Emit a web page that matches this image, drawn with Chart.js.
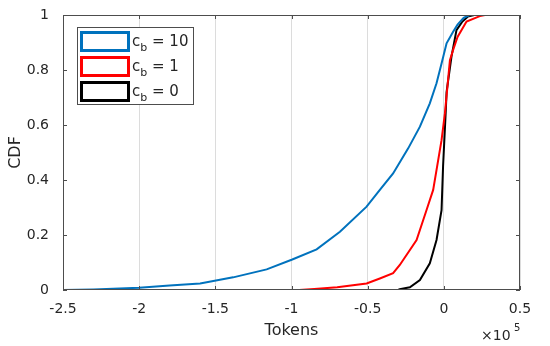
<!DOCTYPE html>
<html>
<head>
<meta charset="utf-8">
<script src="https://cdn.jsdelivr.net/npm/chart.js@4.4.1/dist/chart.umd.min.js"></script>
<style>
  html, body { margin: 0; padding: 0; background: #fff; }
  #wrap { width: 550px; height: 346px; position: relative; }
</style>
</head>
<body>
<div id="wrap"><canvas id="c" width="550" height="346"></canvas></div>
<script>
// tokens are in units of 1e5 (axis shows x10^5)
var xTicks = [-2.5, -2, -1.5, -1, -0.5, 0, 0.5];
var yTicks = [0, 0.2, 0.4, 0.6, 0.8, 1];

var cbValues = ['10', '1', '0'];
var lineColors = ['#0072BD', '#FF0000', '#000000'];

// c_b = 10
var blueX = [-2.5, -2.3, -2.0, -1.8, -1.6, -1.383, -1.163, -0.995, -0.835, -0.682, -0.507, -0.42, -0.333, -0.234, -0.157, -0.092, -0.048, -0.015, 0.018, 0.061, 0.09, 0.13, 0.17, 0.5];
var blueY = [0, 0.002, 0.008, 0.016, 0.024, 0.046, 0.075, 0.111, 0.148, 0.212, 0.303, 0.364, 0.424, 0.515, 0.594, 0.679, 0.752, 0.824, 0.897, 0.939, 0.965, 0.99, 1, 1];

// c_b = 1
var redX = [-0.95, -0.85, -0.7, -0.507, -0.42, -0.333, -0.289, -0.179, -0.114, -0.07, -0.015, 0.007, 0.04, 0.061, 0.09, 0.149, 0.236, 0.27, 0.5];
var redY = [0, 0.004, 0.01, 0.024, 0.042, 0.061, 0.091, 0.182, 0.29, 0.364, 0.545, 0.642, 0.836, 0.873, 0.92, 0.976, 0.996, 1, 1];

// c_b = 0
var blackX = [-2.5, -0.3, -0.289, -0.223, -0.157, -0.092, -0.048, -0.015, -0.005, 0.013, 0.018, 0.028, 0.05, 0.083, 0.12, 0.157, 0.2, 0.5];
var blackY = [0, 0, 0.003, 0.01, 0.036, 0.097, 0.182, 0.29, 0.45, 0.655, 0.72, 0.76, 0.848, 0.945, 0.975, 0.994, 1, 1];

function pts(xs, ys) {
  return xs.map(function(x, i) { return {x: x, y: ys[i]}; });
}

var FONT = '"DejaVu Sans", sans-serif';
var AXIS_COLOR = '#4d4d4d';
var TEXT_COLOR = '#262626';

// draws box, inward ticks, legend and exponent label
var matlabDecor = {
  id: 'matlabDecor',
  afterDraw: function(chart) {
    var ctx = chart.ctx;
    var a = chart.chartArea;
    var xs = chart.scales.x, ys = chart.scales.y;
    ctx.save();
    ctx.strokeStyle = AXIS_COLOR;
    ctx.lineWidth = 1;
    ctx.strokeRect(a.left + 0.5, a.top + 0.5, a.right - a.left - 1, a.bottom - a.top - 1);
    ctx.beginPath();
    xTicks.forEach(function(t) {
      var px = Math.round(xs.getPixelForValue(t)) + 0.5;
      ctx.moveTo(px, a.bottom); ctx.lineTo(px, a.bottom - 4);
      ctx.moveTo(px, a.top); ctx.lineTo(px, a.top + 4);
    });
    yTicks.forEach(function(t) {
      var py = Math.round(ys.getPixelForValue(t)) + 0.5;
      ctx.moveTo(a.left, py); ctx.lineTo(a.left + 4, py);
      ctx.moveTo(a.right, py); ctx.lineTo(a.right - 4, py);
    });
    ctx.stroke();

    // exponent
    ctx.fillStyle = TEXT_COLOR;
    ctx.textBaseline = 'alphabetic';
    ctx.textAlign = 'left';
    ctx.font = '14px ' + FONT;
    ctx.fillText('\u00d710', 481, 340);
    ctx.font = '10px ' + FONT;
    ctx.fillText('5', 514, 331);

    // legend
    var lx = 77, ly = 27, lw = 116, lh = 77;
    ctx.fillStyle = '#fff';
    ctx.fillRect(lx, ly, lw, lh);
    ctx.strokeStyle = AXIS_COLOR;
    ctx.lineWidth = 1;
    ctx.strokeRect(lx + 0.5, ly + 0.5, lw, lh);
    chart.data.datasets.forEach(function(ds, i) {
      var cy = 41.5 + i * 25;
      ctx.strokeStyle = ds.borderColor;
      ctx.lineWidth = 3;
      ctx.strokeRect(81.5, cy - 9, 47, 18);
      ctx.fillStyle = TEXT_COLOR;
      ctx.font = '15px ' + FONT;
      ctx.fillText('c', 132, cy + 4);
      var w = ctx.measureText('c').width;
      ctx.font = '11px ' + FONT;
      ctx.fillText('b', 132 + w, cy + 9);
      var wb = ctx.measureText('b').width;
      ctx.font = '15px ' + FONT;
      ctx.fillText(' = ' + cbValues[i], 132 + w + wb, cy + 4);
    });
    ctx.restore();
  }
};

new Chart(document.getElementById('c'), {
  type: 'line',
  data: {
    datasets: [
      {label: 'c_b = 10', data: pts(blueX, blueY), borderColor: lineColors[0]},
      {label: 'c_b = 1', data: pts(redX, redY), borderColor: lineColors[1]},
      {label: 'c_b = 0', data: pts(blackX, blackY), borderColor: lineColors[2]}
    ]
  },
  options: {
    responsive: false,
    animation: false,
    devicePixelRatio: 1,
    elements: {
      line: {borderWidth: 2, tension: 0, fill: false},
      point: {radius: 0}
    },
    layout: {padding: {left: 0, right: 30, top: 15, bottom: 0}},
    plugins: {legend: {display: false}, tooltip: {enabled: false}},
    scales: {
      x: {
        type: 'linear', min: -2.5, max: 0.5,
        afterFit: function(s) { s.height = 56; },
        afterBuildTicks: function(s) { s.ticks = xTicks.map(function(v) { return {value: v}; }); },
        grid: {color: '#dcdcdc', lineWidth: 1, drawTicks: false},
        border: {display: false},
        ticks: {color: TEXT_COLOR, font: {family: FONT, size: 14}, padding: 11, maxRotation: 0,
          callback: function(v) { return String(v); }},
        title: {display: true, text: 'Tokens', color: TEXT_COLOR, font: {family: FONT, size: 16}, padding: {top: 4, bottom: 6}}
      },
      y: {
        type: 'linear', min: 0, max: 1,
        afterFit: function(s) { s.width = 63; },
        afterBuildTicks: function(s) { s.ticks = yTicks.map(function(v) { return {value: v}; }); },
        grid: {display: false},
        border: {display: false},
        ticks: {color: TEXT_COLOR, font: {family: FONT, size: 14}, padding: 6,
          callback: function(v) { return String(Math.round(v * 10) / 10); }},
        title: {display: true, text: 'CDF', color: TEXT_COLOR, font: {family: FONT, size: 16}, padding: {top: 6, bottom: 8}}
      }
    }
  },
  plugins: [matlabDecor]
});
</script>
</body>
</html>
